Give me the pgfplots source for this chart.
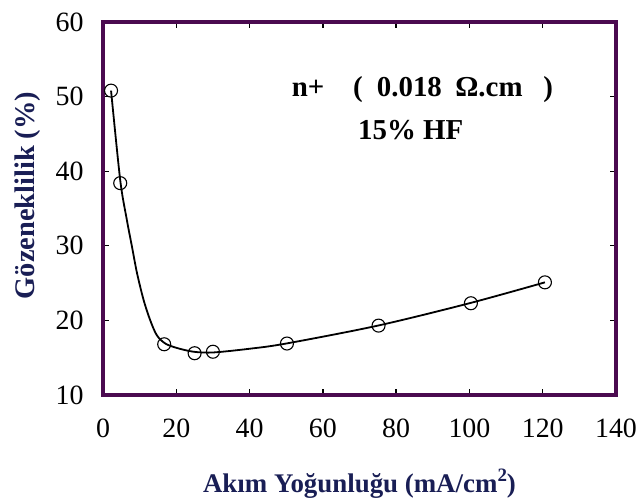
\documentclass[border=0pt]{standalone}
\usepackage{fontspec}
\setmainfont{Liberation Serif}
\usepackage{pgfplots}
\pgfplotsset{compat=1.18}
\definecolor{framec}{RGB}{75,10,80}
\definecolor{labc}{RGB}{25,30,85}
\begin{document}
\begin{tikzpicture}[x=1bp,y=1bp]
\path[use as bounding box] (-103,-107) rectangle (541,395);
\begin{axis}[
  at={(0,0)}, anchor=south west,
  scale only axis, width=513bp, height=373bp,
  xmin=0, xmax=140, ymin=10, ymax=60,
  xtick={0,20,...,140}, ytick={10,20,...,60},
  axis line style={framec, line width=4bp},
  tick style={black, line width=1.3bp},
  major tick length=6bp, tick align=inside,
  /pgf/number format/assume math mode=true,
  ticklabel style={font=\fontsize{28}{30}\selectfont},
  xticklabel style={yshift=-20bp},
  yticklabel style={xshift=-16bp},
  every axis x label/.style={at={(axis description cs:0.5,0)}, anchor=base, yshift=-97bp},
  every axis y label/.style={at={(axis description cs:-0.1326,0.535)}, anchor=base, rotate=90},
  xlabel={\color{labc}\bfseries\fontsize{27}{30}\selectfont Akım Yoğunluğu (mA/cm\raisebox{0.38em}{\fontsize{19}{19}\selectfont 2})},
  ylabel={\color{labc}\bfseries\fontsize{28.5}{30}\selectfont Gözeneklilik (\%)},
  clip=false,
]
\addplot[black, line width=1.8bp, smooth, tension=0.5] coordinates {
  (2.2,50.8) (4.7,38.8) (6.5,33.5) (7.9,29.9) (9.3,26.3) (11.1,22.7) (12.9,20.0) (14.7,18.0)
  (17.0,16.9) (20.2,16.3) (24.7,15.8) (30,15.7) (40,16.2) (50,16.9) (75,19.3) (100,22.3) (120.6,25.1)
};
\addplot[only marks, mark=o, mark size=6.5bp, mark options={black, line width=1.1bp}] coordinates {
  (2.2,50.8) (4.7,38.4) (16.7,16.8) (25,15.6) (30,15.8) (50.2,16.9) (75.2,19.3) (100.4,22.3) (120.6,25.1)
};
\node[anchor=base west, font=\bfseries\fontsize{29}{30}\selectfont, inner sep=0pt] at (axis cs:51.5,50.0) {n+};
\node[anchor=base west, font=\bfseries\fontsize{29}{30}\selectfont, inner sep=0pt] at (axis cs:68.2,50.0) {(};
\node[anchor=base west, font=\bfseries\fontsize{29}{30}\selectfont, inner sep=0pt] at (axis cs:74.7,50.0) {0.018};
\node[anchor=base west, font=\bfseries\fontsize{29}{30}\selectfont, inner sep=0pt] at (axis cs:96.1,50.0) {Ω.cm};
\node[anchor=base west, font=\bfseries\fontsize{29}{30}\selectfont, inner sep=0pt] at (axis cs:120.1,50.0) {)};
\node[anchor=base west, font=\bfseries\fontsize{29}{30}\selectfont, inner sep=0pt] at (axis cs:69.6,44.2) {15\%\ HF};
\end{axis}
\end{tikzpicture}
\end{document}
